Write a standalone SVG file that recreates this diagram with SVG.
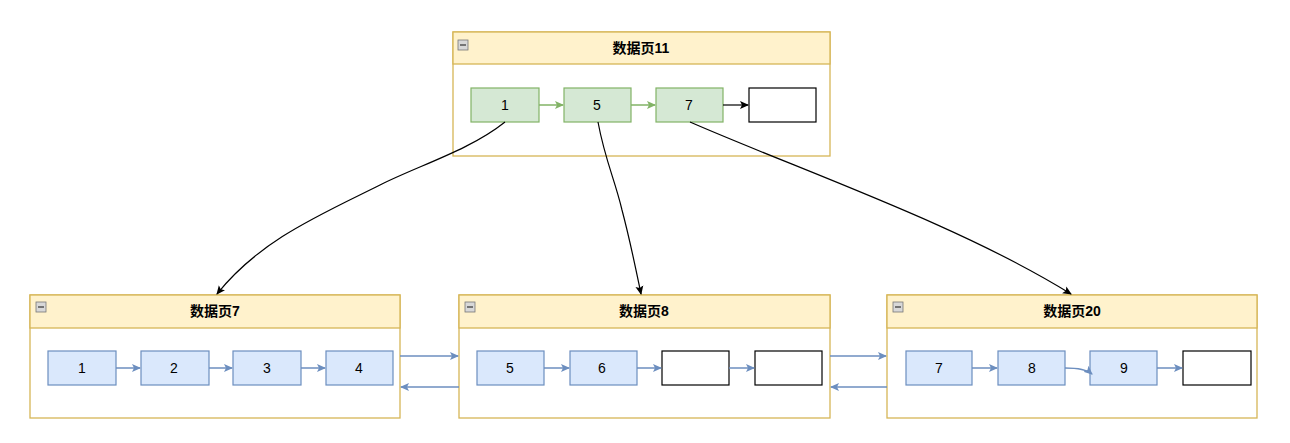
<svg xmlns="http://www.w3.org/2000/svg" width="1290" height="443" viewBox="0 0 1290 443">
<style>
.cont{fill:#ffffff;stroke:#d6b656;stroke-width:1.3}
.hdr{fill:#fff2cc;stroke:#d6b656;stroke-width:1.3}
.title{font-family:"Liberation Sans","Noto Sans CJK SC",sans-serif;font-size:14px;font-weight:bold;fill:#000;text-anchor:middle}
.lbl{font-family:"Liberation Sans","Noto Sans CJK SC",sans-serif;font-size:14px;fill:#000;text-anchor:middle}
.g{fill:#d5e8d4;stroke:#82b366;stroke-width:1.2}
.b{fill:#dae8fc;stroke:#6c8ebf;stroke-width:1.2}
.w{fill:#ffffff;stroke:#000;stroke-width:1.2}
.icon{fill:#d8d8d8;stroke:#777;stroke-width:0.8}
.bl{fill:none;stroke:#6c8ebf;stroke-width:1.5;marker-end:url(#ab)}
.gl{fill:none;stroke:#82b366;stroke-width:1.5;marker-end:url(#ag)}
.kl{fill:none;stroke:#000;stroke-width:1.2;marker-end:url(#ak)}
</style>
<defs>
<marker id="ab" markerWidth="10" markerHeight="10" refX="8" refY="5" orient="auto" markerUnits="userSpaceOnUse"><path d="M0,1 L9,5 L0,9 L2,5 Z" fill="#6c8ebf"/></marker>
<marker id="ag" markerWidth="10" markerHeight="10" refX="8" refY="5" orient="auto" markerUnits="userSpaceOnUse"><path d="M0,1 L9,5 L0,9 L2,5 Z" fill="#82b366"/></marker>
<marker id="ak" markerWidth="10" markerHeight="10" refX="8" refY="5" orient="auto" markerUnits="userSpaceOnUse"><path d="M0,1 L9,5 L0,9 L2,5 Z" fill="#000"/></marker>
</defs>

<g id="page11">
<rect class="cont" x="453" y="32" width="377" height="124"/>
<rect class="hdr" x="453" y="32" width="377" height="32"/>
<rect class="icon" x="458" y="40" width="10" height="10"/><line x1="460" y1="45" x2="466" y2="45" stroke="#333" stroke-width="1.2"/>
<text class="title" x="641" y="53">数据页11</text>
</g>
<g id="n11-1"><rect class="g" x="471" y="88" width="68" height="34"/><text class="lbl" x="505" y="110">1</text></g>
<g id="n11-5"><rect class="g" x="564" y="88" width="67" height="34"/><text class="lbl" x="597" y="110">5</text></g>
<g id="n11-7"><rect class="g" x="656" y="88" width="67" height="34"/><text class="lbl" x="689" y="110">7</text></g>
<g id="n11-e"><rect class="w" x="749" y="88" width="67" height="34"/></g>

<g id="page7">
<rect class="cont" x="30" y="295" width="370" height="123"/>
<rect class="hdr" x="30" y="295" width="370" height="33"/>
<rect class="icon" x="36" y="302" width="10" height="10"/><line x1="38" y1="307" x2="44" y2="307" stroke="#333" stroke-width="1.2"/>
<text class="title" x="215" y="316">数据页7</text>
</g>
<g id="n7-1"><rect class="b" x="48" y="351" width="68" height="34"/><text class="lbl" x="82" y="373">1</text></g>
<g id="n7-2"><rect class="b" x="141" y="351" width="68" height="34"/><text class="lbl" x="174" y="373">2</text></g>
<g id="n7-3"><rect class="b" x="233" y="351" width="68" height="34"/><text class="lbl" x="267" y="373">3</text></g>
<g id="n7-4"><rect class="b" x="326" y="351" width="67" height="34"/><text class="lbl" x="359" y="373">4</text></g>

<g id="page8">
<rect class="cont" x="459" y="295" width="371" height="123"/>
<rect class="hdr" x="459" y="295" width="371" height="33"/>
<rect class="icon" x="465" y="302" width="10" height="10"/><line x1="467" y1="307" x2="473" y2="307" stroke="#333" stroke-width="1.2"/>
<text class="title" x="644" y="316">数据页8</text>
</g>
<g id="n8-5"><rect class="b" x="477" y="351" width="67" height="34"/><text class="lbl" x="510" y="373">5</text></g>
<g id="n8-6"><rect class="b" x="570" y="351" width="67" height="34"/><text class="lbl" x="602" y="373">6</text></g>
<g id="n8-e1"><rect class="w" x="662" y="351" width="67" height="34"/></g>
<g id="n8-e2"><rect class="w" x="755" y="351" width="67" height="34"/></g>

<g id="page20">
<rect class="cont" x="887" y="295" width="370" height="123"/>
<rect class="hdr" x="887" y="295" width="370" height="33"/>
<rect class="icon" x="893" y="302" width="10" height="10"/><line x1="895" y1="307" x2="901" y2="307" stroke="#333" stroke-width="1.2"/>
<text class="title" x="1072" y="316">数据页20</text>
</g>
<g id="n20-7"><rect class="b" x="906" y="351" width="66" height="34"/><text class="lbl" x="939" y="373">7</text></g>
<g id="n20-8"><rect class="b" x="998" y="351" width="67" height="34"/><text class="lbl" x="1032" y="373">8</text></g>
<g id="n20-9"><rect class="b" x="1090" y="351" width="67" height="34"/><text class="lbl" x="1124" y="373">9</text></g>
<g id="n20-e"><rect class="w" x="1183" y="351" width="68" height="34"/></g>

<g id="connectors">
<path class="gl" d="M539,105 L563,105"/>
<path class="gl" d="M631,105 L655,105"/>
<path class="kl" d="M723,105 L748,105"/>
<path class="bl" d="M116,368 L140,368"/>
<path class="bl" d="M209,368 L232,368"/>
<path class="bl" d="M301,368 L325,368"/>
<path class="bl" d="M544,368 L569,368"/>
<path class="bl" d="M637,368 L661,368"/>
<path class="bl" d="M729,368 L754,368"/>
<path class="bl" d="M972,368 L997,368"/>
<path class="bl" d="M1065,368 Q1085,368 1092,374"/>
<path class="bl" d="M1157,368 L1182,368"/>
<path class="bl" d="M400,356 L458,356"/>
<path class="bl" d="M459,387 L401,387"/>
<path class="bl" d="M830,356 L886,356"/>
<path class="bl" d="M887,387 L831,387"/>
<path class="kl" d="M505,122 C470,150 420,165 380,185 C320,215 260,240 217,294"/>
<path class="kl" d="M598,122 C605,160 615,180 622,210 C630,240 635,265 641,294"/>
<path class="kl" d="M690,122 C800,170 960,225 1071,294"/>
</g>
</svg>
